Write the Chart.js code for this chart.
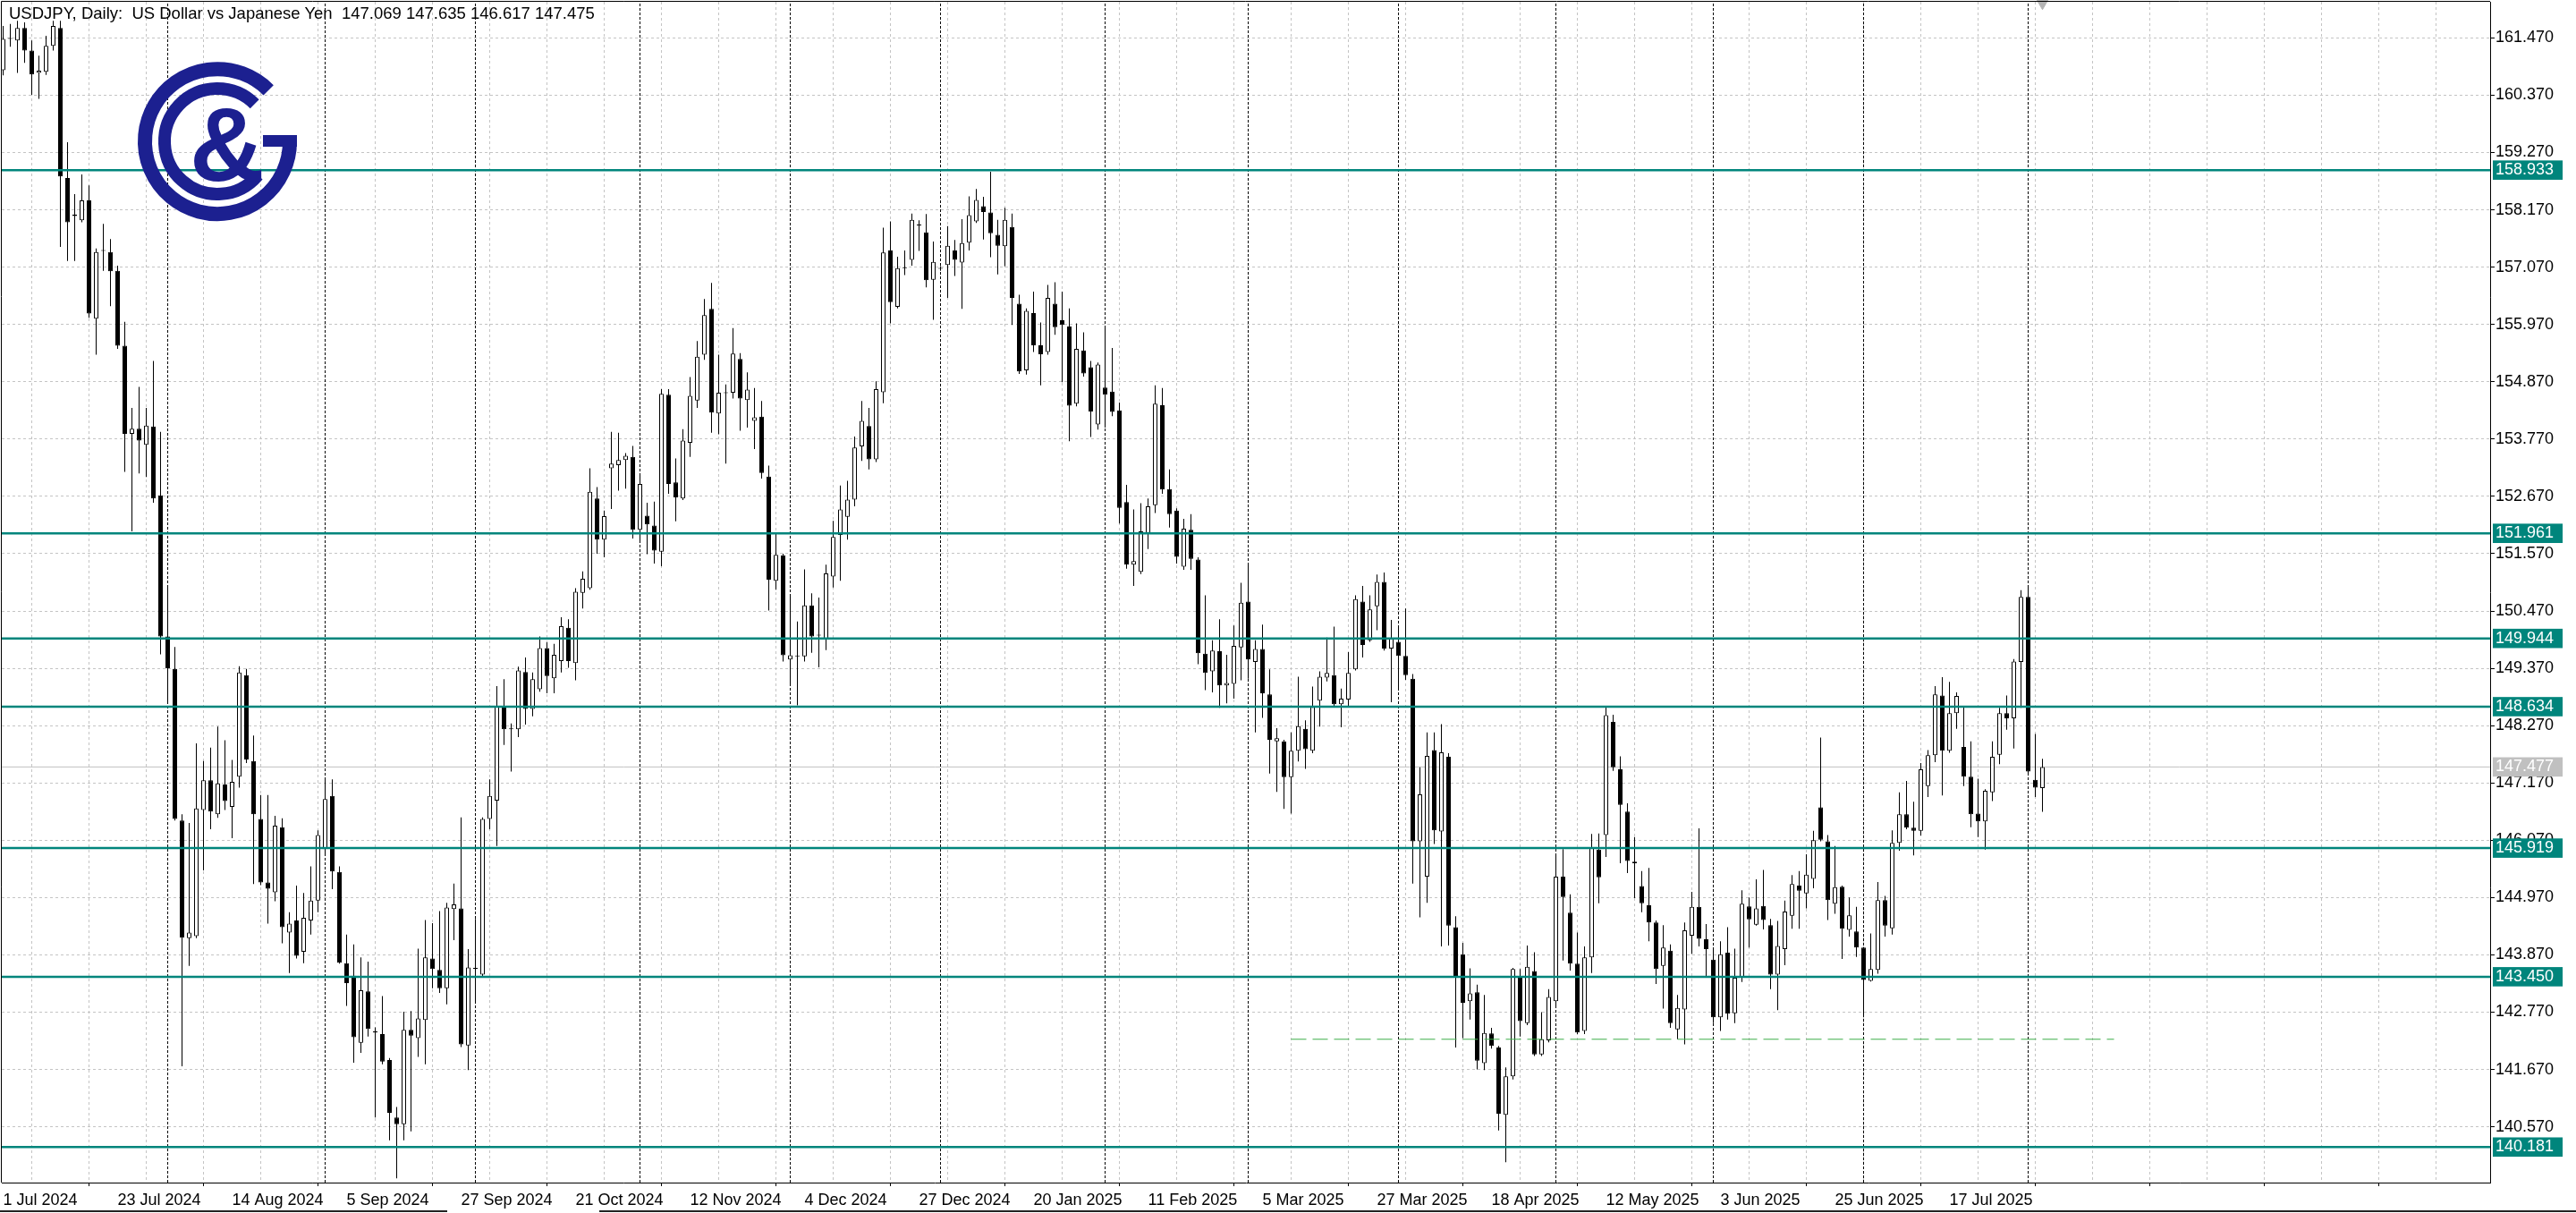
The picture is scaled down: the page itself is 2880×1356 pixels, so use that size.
<!DOCTYPE html>
<html>
<head>
<meta charset="utf-8">
<script src="https://cdn.jsdelivr.net/npm/chart.js@4.4.1/dist/chart.umd.min.js"></script>
<style>
html,body{margin:0;padding:0;background:#fff;}
#wrap{position:relative;width:2880px;height:1356px;overflow:hidden;background:#fff;}
canvas{display:block;position:absolute;left:0;top:0;}
#title{position:absolute;left:10px;top:6px;font-family:"Liberation Sans",Arial,sans-serif;font-size:18.5px;line-height:18px;color:#000;white-space:pre;}
#logo{position:absolute;left:0;top:0;}
.tab{position:absolute;top:1353px;height:2px;background:#222;}
</style>
</head>
<body>
<div id="wrap">
<canvas id="c" width="2880" height="1356"></canvas>
<div id="title">USDJPY, Daily:  US Dollar vs Japanese Yen  147.069 147.635 146.617 147.475</div>
<svg id="logo" width="400" height="300" viewBox="0 0 400 300">
  <g fill="none" stroke="#1c2090" stroke-linecap="butt">
    <path d="M 300.2 100.8 A 81 81 0 1 0 324 158" stroke-width="16"/>
    <path d="M 284.7 116.3 A 59 59 0 1 0 288.2 195.9" stroke-width="14"/>
  </g>
  <rect x="294" y="151" width="38" height="13" fill="#1c2090"/>
  <text x="254" y="202" text-anchor="middle" font-family="Liberation Sans, Arial, sans-serif" font-weight="bold" font-size="116" fill="#1c2090">&amp;</text>
</svg>
<div class="tab" style="left:0;width:500px;"></div>
<div class="tab" style="left:670px;width:2210px;"></div>
</div>
<script>
// ---------- data ----------
const xTickLabels = ['1 Jul 2024','23 Jul 2024','14 Aug 2024','5 Sep 2024','27 Sep 2024','21 Oct 2024','12 Nov 2024','4 Dec 2024','27 Dec 2024','20 Jan 2025','11 Feb 2025','5 Mar 2025','27 Mar 2025','18 Apr 2025','12 May 2025','3 Jun 2025','25 Jun 2025','17 Jul 2025'];
const barsPerLabel = 16;
const priceTicks = [140.570,141.670,142.770,143.870,144.970,146.070,147.170,148.270,149.370,150.470,151.570,152.670,153.770,154.870,155.970,157.070,158.170,159.270,160.370,161.470];
const levelValues = [158.933,151.961,149.944,148.634,145.919,143.450,140.181];
const currentPrice = 147.477;
const monthStartBars = [23,45,66,89,110,131,154,174,195,217,239,260,283];
const dashedLevelPrice = 142.25;
const dashedLevelBars = [180,295];
const shiftMarkerBar = 285;

const opens = [
160.85,161.45,161.42,161.66,161.23,160.80,160.82,161.32,161.66,158.78,
158.05,157.97,158.35,156.08,157.38,157.36,157.00,155.56,153.87,153.97,
153.66,154.01,152.69,149.98,149.36,146.45,144.19,144.23,146.65,147.22,
146.57,147.14,146.71,147.29,149.24,147.59,146.48,145.26,145.07,146.32,
144.30,144.53,143.93,144.53,144.91,145.90,146.92,145.46,143.71,143.47,
142.18,143.17,142.40,142.35,141.85,140.75,140.62,142.43,142.27,142.62,
143.80,143.58,143.23,144.75,144.76,142.13,143.60,143.49,146.48,146.83,
148.64,148.20,148.20,149.30,148.59,148.97,149.76,149.18,149.51,150.15,
149.47,150.82,150.91,152.63,151.84,153.21,153.27,153.37,153.43,152.03,
152.30,152.11,151.61,154.62,152.94,152.63,153.70,154.51,155.39,156.27,
154.26,154.65,154.66,155.31,154.52,154.12,154.20,153.05,151.05,151.54,
149.54,149.60,149.60,150.58,150.00,149.93,151.13,151.93,152.28,152.61,
153.63,154.02,153.38,154.67,157.39,156.31,157.05,157.21,157.87,157.74,
156.83,157.04,157.11,157.39,157.16,157.54,157.95,158.24,158.12,157.69,
157.47,157.84,156.37,155.09,156.19,155.57,155.44,156.37,156.05,155.93,
154.45,155.47,155.15,154.05,154.76,154.68,154.32,152.56,151.36,151.22,
151.97,152.50,154.42,152.81,152.40,151.32,152.03,151.46,149.65,149.31,
149.70,149.04,149.07,149.77,150.65,149.49,149.74,148.87,147.97,147.97,
147.28,147.79,148.21,147.79,148.75,149.19,149.24,148.68,148.77,149.35,
150.65,149.91,150.56,151.03,149.75,149.88,149.61,149.17,146.05,145.37,
147.80,146.24,147.67,144.40,143.88,142.98,143.15,141.79,142.36,142.09,
140.80,141.54,143.45,142.56,143.56,141.96,142.23,142.98,145.37,144.68,
143.70,142.41,143.82,145.89,146.17,148.34,147.43,146.62,145.66,145.19,
144.82,144.49,143.66,143.95,142.44,142.82,144.24,144.79,144.17,143.78,
142.67,143.91,142.75,143.43,144.80,144.45,144.81,144.44,143.49,143.98,
144.62,145.20,145.05,145.33,146.70,146.05,144.85,145.18,144.35,144.32,
144.01,143.37,143.58,144.92,144.38,146.02,146.57,146.31,146.25,147.11,
147.70,148.85,147.79,148.51,147.86,147.29,146.58,146.43,146.99,147.71,
148.51,148.41,149.49,150.74,147.23,147.069];
const highs = [
161.70,161.74,161.80,161.77,161.42,161.13,161.51,161.80,161.80,159.47,
158.47,158.85,158.64,157.43,157.90,157.61,157.10,156.02,154.37,154.77,
154.37,155.27,153.91,150.92,149.78,146.57,146.40,147.93,147.59,147.85,
148.25,147.99,147.61,149.41,149.36,148.08,146.94,146.94,146.54,146.49,
144.69,145.20,145.06,145.57,146.26,147.24,147.24,145.57,144.26,144.07,
143.82,143.74,142.48,143.08,141.89,140.95,142.78,142.79,143.99,144.54,
144.48,144.71,144.87,145.24,146.51,143.98,144.56,146.51,147.24,149.03,
149.16,148.31,149.40,149.58,149.29,149.98,149.87,149.84,150.35,150.31,
150.91,151.23,153.21,152.85,152.40,153.91,153.89,153.50,153.64,153.11,
152.55,152.57,154.73,154.73,153.40,153.96,154.96,155.65,156.46,156.77,
155.39,154.82,155.90,155.42,155.05,154.75,154.50,153.26,151.97,151.57,
150.77,150.27,151.27,150.81,150.73,151.36,152.20,152.88,152.97,153.82,
154.50,154.37,154.88,157.83,157.95,157.27,157.39,158.10,157.97,158.09,
157.56,157.09,157.86,157.59,157.99,158.43,158.57,158.42,158.90,157.98,
158.21,158.10,156.54,156.28,156.60,156.01,156.73,156.78,156.60,156.28,
155.99,155.82,155.27,155.24,155.90,155.52,154.47,152.89,152.42,152.54,
152.63,154.80,154.75,153.19,152.44,152.24,152.33,151.50,150.77,149.91,
150.31,149.63,150.19,151.01,151.35,149.91,150.21,149.35,148.22,148.00,
148.14,149.21,148.37,149.02,149.31,149.96,150.17,148.98,149.68,150.77,
150.95,150.77,151.17,151.21,150.30,150.16,150.52,149.26,147.47,148.14,
148.14,148.30,147.74,144.61,144.10,143.61,143.30,143.10,142.47,142.12,
141.71,143.62,143.60,144.05,143.92,142.77,143.21,145.81,145.90,145.03,
144.30,144.03,146.19,146.20,148.64,148.48,147.68,146.78,146.13,145.48,
145.54,144.53,144.44,144.07,143.10,144.49,145.08,146.30,144.46,143.99,
144.13,144.40,143.99,145.11,144.97,145.32,145.50,144.56,144.52,144.91,
145.40,145.48,145.80,146.25,148.04,146.17,145.96,145.20,144.97,144.79,
144.02,144.28,145.27,145.00,146.26,146.99,147.21,146.81,147.55,147.80,
149.03,149.20,149.11,148.91,148.64,147.97,147.25,147.05,147.97,148.61,
148.85,149.55,150.87,150.95,148.11,147.635];
const lows = [
160.75,161.30,160.80,160.99,160.38,160.30,160.76,161.23,157.46,157.19,
157.19,157.93,156.10,155.39,157.00,156.32,155.50,153.14,152.00,153.11,
153.04,152.55,149.64,148.73,146.45,141.73,143.66,144.19,145.49,146.28,
146.50,146.65,146.11,147.08,147.55,145.23,145.21,144.47,144.90,144.09,
143.52,143.80,143.71,144.26,144.69,145.77,145.13,143.70,142.89,141.80,
141.99,142.30,140.75,141.77,140.31,139.58,140.31,140.48,141.91,141.77,
143.23,143.14,142.92,144.15,142.10,141.66,142.98,143.45,146.28,145.96,
147.90,147.39,148.05,148.29,148.45,148.92,148.89,148.89,149.29,149.38,
149.14,150.52,150.88,151.57,151.50,152.43,152.78,152.82,151.86,151.82,
151.56,151.38,151.33,152.72,152.19,152.60,153.43,154.37,155.29,153.89,
153.86,153.30,154.55,153.93,153.99,153.58,153.01,150.48,150.88,149.50,
149.04,148.66,149.50,149.67,149.39,149.72,150.92,151.05,151.84,152.48,
153.35,153.19,153.33,154.46,155.99,156.28,156.92,157.10,157.38,156.68,
156.06,157.00,156.48,156.90,156.27,157.39,157.92,157.60,157.26,156.93,
157.09,155.96,155.02,155.01,155.44,154.80,155.39,155.77,154.86,153.73,
154.40,154.97,153.81,153.95,153.99,154.21,152.15,151.28,150.95,151.18,
151.66,152.35,152.72,152.07,151.38,151.26,151.26,149.45,148.95,148.91,
148.61,148.70,148.79,149.14,149.17,148.14,148.42,147.35,147.00,146.67,
146.58,147.58,147.44,147.74,148.25,149.12,148.62,148.24,148.65,149.33,
149.58,149.88,150.10,149.71,148.72,148.96,149.15,145.24,144.59,144.87,
146.00,144.03,144.05,142.09,142.27,142.63,141.67,141.66,142.07,140.50,
139.89,141.48,142.30,142.52,141.93,141.93,142.19,142.88,143.76,143.57,
142.35,142.35,143.52,144.86,145.75,147.40,145.63,145.44,144.96,144.69,
144.13,143.31,142.84,142.47,142.25,142.15,143.89,144.03,143.46,142.56,
142.41,142.63,142.56,143.35,144.01,144.43,144.36,143.21,142.81,143.67,
144.37,144.37,144.76,145.15,146.05,144.54,144.66,143.79,144.22,143.83,
142.68,143.36,143.51,144.22,144.26,145.87,146.28,145.78,146.16,146.90,
147.57,146.93,147.75,148.21,147.11,146.32,146.13,145.89,146.82,147.53,
148.19,147.83,148.61,147.31,146.90,146.617];
const closes = [
161.45,161.46,161.66,161.23,160.77,160.84,161.32,161.70,158.81,157.93,
158.08,158.35,156.18,157.36,157.40,156.99,155.56,153.87,153.97,153.74,
154.03,152.63,149.98,149.37,146.48,144.20,144.30,146.68,147.22,146.62,
147.16,146.82,147.19,149.29,147.62,146.57,145.26,145.14,146.35,144.40,
144.47,143.85,144.58,144.91,146.17,146.86,145.47,143.72,143.33,142.29,
143.19,142.45,142.38,141.82,140.84,140.62,142.43,142.32,142.65,143.82,
143.60,143.23,144.78,144.84,142.15,143.63,143.62,146.48,146.92,148.64,
148.20,148.21,149.33,148.59,149.16,149.76,149.22,149.63,150.18,149.51,
150.84,151.09,152.76,151.84,152.29,153.30,153.37,153.45,152.03,152.91,
152.13,151.63,154.64,152.91,152.65,153.74,154.60,155.35,156.15,154.28,
154.66,154.66,155.41,154.55,154.72,154.19,153.12,151.07,151.55,149.62,
149.62,149.61,150.58,149.98,150.01,151.19,151.89,152.42,152.61,153.61,
154.12,153.38,154.73,157.35,156.40,157.05,157.06,157.98,157.88,156.82,
157.17,157.05,157.48,157.21,157.53,158.07,158.36,158.13,157.72,157.48,
157.98,156.48,155.07,156.23,155.57,155.40,156.48,155.92,155.96,154.41,
155.50,155.03,154.30,155.20,154.62,154.29,152.45,151.36,151.43,152.00,
152.48,154.45,152.80,152.33,151.51,152.05,151.47,149.66,149.28,149.71,
149.04,149.09,149.80,150.63,149.54,149.74,148.89,148.00,148.03,147.28,
147.79,148.26,147.82,148.63,149.21,149.28,148.68,148.79,149.28,150.70,
149.82,150.50,151.03,149.75,149.94,149.61,149.24,146.05,146.95,147.69,
146.26,147.76,144.43,143.45,142.95,143.13,141.84,142.37,142.12,140.82,
141.54,143.60,142.60,143.64,141.96,142.25,143.06,145.37,144.98,143.70,
142.38,143.82,145.92,145.36,148.47,147.47,146.75,145.67,145.63,144.86,
144.49,143.60,144.01,142.56,142.85,144.34,144.79,144.18,143.98,142.67,
143.88,142.74,143.43,144.85,144.55,144.76,144.54,143.49,144.04,144.70,
145.23,145.10,145.41,146.07,146.08,144.92,145.17,144.37,144.63,144.01,
143.39,143.60,144.92,144.43,146.02,146.57,146.31,146.25,147.43,147.70,
148.87,147.79,148.51,148.84,147.29,146.57,146.43,147.02,147.67,148.51,
148.41,149.50,150.74,147.39,147.08,147.475];

// ---------- axis geometry ----------
const X_MIN = -0.1875, X_MAX = 347.5625;
const Y_MIN = 139.499, Y_MAX = 162.1637;
const TEAL = '#00857c';
const GRID = '#c4c4c4';
const FONT = {family:'"Liberation Sans", Arial, sans-serif', size:18};

const datasets = [];
levelValues.forEach(v => datasets.push({
  type:'line', data:[{x:X_MIN,y:v},{x:X_MAX,y:v}], borderColor:TEAL, borderWidth:2.5,
  pointRadius:0, order:0
}));
datasets.push({
  type:'line', data:[{x:dashedLevelBars[0],y:dashedLevelPrice},{x:dashedLevelBars[1],y:dashedLevelPrice}],
  borderColor:'#3cae4a', borderWidth:1, borderDash:[17,7], pointRadius:0, order:0
});
datasets.push({
  type:'bar', data:opens.map((o,i)=>({x:i,y:[o,closes[i]]})),
  backgroundColor:ctx=>{const i=ctx.dataIndex;return closes[i]>opens[i]?'#ffffff':'#000000';},
  borderColor:'#000', borderWidth:1, borderSkipped:false, barThickness:5, minBarLength:1,
  grouped:false, inflateAmount:0, order:1
});
datasets.push({
  type:'bar', data:highs.map((h,i)=>({x:i,y:[lows[i],h]})),
  backgroundColor:'#000', borderWidth:0, barThickness:1, grouped:false, inflateAmount:0, order:2
});
datasets.push({
  type:'line', data:[{x:X_MIN,y:currentPrice},{x:X_MAX,y:currentPrice}], borderColor:'#c0c0c0',
  borderWidth:1, pointRadius:0, order:3
});
monthStartBars.forEach(b => datasets.push({
  type:'line', data:[{x:b,y:Y_MIN},{x:b,y:Y_MAX}], borderColor:'#000', borderWidth:1,
  borderDash:[3,2], pointRadius:0, order:4
}));
datasets.push({
  type:'scatter', data:[{x:shiftMarkerBar,y:Y_MAX-0.03}], pointStyle:'triangle', rotation:180,
  pointRadius:7, backgroundColor:'#b4b4b4', borderColor:'#b4b4b4', order:0, clip:false
});

const framePlugin = {
  id:'frame',
  afterDraw(chart){
    const {ctx, chartArea:a} = chart;
    ctx.save(); ctx.strokeStyle='#000'; ctx.lineWidth=1;
    ctx.beginPath();
    ctx.moveTo(a.left-0.5, a.bottom); ctx.lineTo(a.left-0.5, a.top-0.5); ctx.lineTo(a.right, a.top-0.5);
    ctx.stroke(); ctx.restore();
  }
};

function zeroPad(s){ s.paddingTop=0; s.paddingBottom=0; s.paddingLeft=0; s.paddingRight=0; }

Chart.defaults.font.family = FONT.family;
new Chart(document.getElementById('c'), {
  type:'bar',
  data:{datasets},
  options:{
    responsive:false, animation:false, events:[],
    layout:{autoPadding:false, padding:{left:2, top:2, right:0, bottom:0}},
    plugins:{legend:{display:false}, tooltip:{enabled:false}, title:{display:false}},
    scales:{
      x:{
        type:'linear', position:'bottom', min:X_MIN, max:X_MAX, bounds:'data', offset:false,
        afterBuildTicks:s=>{ const t=[]; for(let v=0; v<=X_MAX; v+=barsPerLabel/2) t.push({value:v}); s.ticks=t; },
        afterFit:s=>{ s.height=34; zeroPad(s); },
        grid:{ color:GRID, lineWidth:1, drawTicks:true, tickLength:4,
          tickColor:ctx=>(ctx.tick && ctx.tick.value%barsPerLabel===0)?'#000':'rgba(0,0,0,0)' },
        border:{display:true, color:'#000', width:1, dash:[3,3]},
        ticks:{ autoSkip:false, maxRotation:0, minRotation:0, align:'start', padding:5, color:'#000', font:FONT,
          callback:v=>{ if(v%barsPerLabel!==0) return ''; const k=v/barsPerLabel; return k<xTickLabels.length?xTickLabels[k]:''; } }
      },
      y:{
        type:'linear', position:'right', min:Y_MIN, max:Y_MAX, bounds:'data',
        afterBuildTicks:s=>{
          s.ticks = priceTicks.map(v=>({value:v, kind:'grid'}))
            .concat(levelValues.map(v=>({value:v, kind:'level'})))
            .concat([{value:currentPrice, kind:'current'}]);
        },
        afterFit:s=>{ s.width=96; zeroPad(s); },
        grid:{ lineWidth:1, tickLength:5,
          color:ctx=>(ctx.tick && ctx.tick.kind==='grid')?GRID:'rgba(0,0,0,0)',
          tickColor:ctx=>(ctx.tick && ctx.tick.kind==='grid')?'#000':'rgba(0,0,0,0)' },
        border:{display:true, color:'#000', width:1, dash:[3,3]},
        ticks:{ autoSkip:false, padding:1, font:FONT,
          color:ctx=>(ctx.tick && ctx.tick.kind==='grid')?'#000':'#fff',
          showLabelBackdrop:ctx=>!!(ctx.tick && ctx.tick.kind!=='grid'),
          backdropColor:ctx=>(ctx.tick && ctx.tick.kind==='level')?TEAL:((ctx.tick && ctx.tick.kind==='current')?'#c0c0c0':'rgba(0,0,0,0)'),
          backdropPadding:{left:3, right:10, top:0, bottom:0},
          callback:v=>Number(v).toFixed(3) }
      }
    }
  },
  plugins:[framePlugin]
});
</script>
</body>
</html>
